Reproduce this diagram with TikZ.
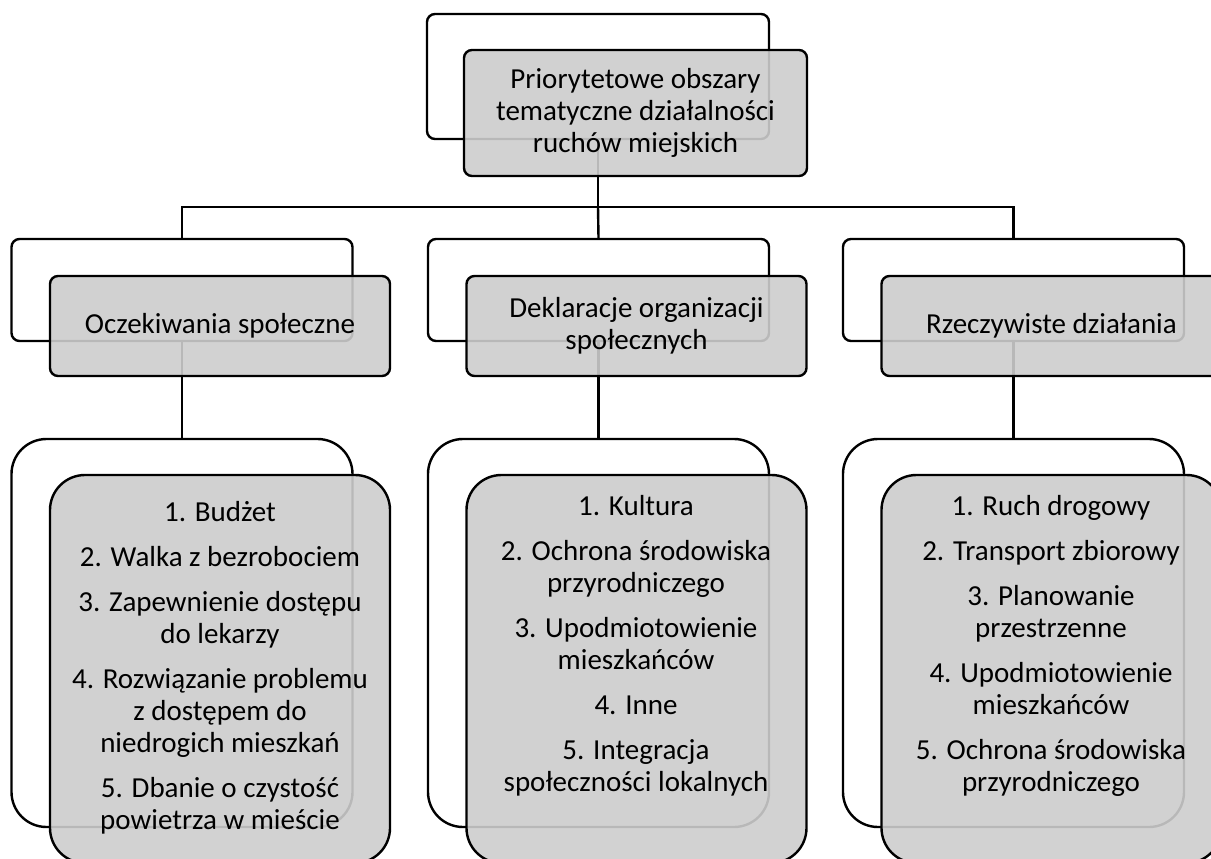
\documentclass[tikz,border=0pt]{standalone}
\usepackage{fontspec}
\setmainfont{Carlito}
\definecolor{boxgray}{RGB}{205,205,205}
\tikzset{
  back/.style={draw=black, line width=2.4pt, rounded corners=#1, fill=white, inner sep=0pt},
  back/.default=8pt,
  front/.style={draw=black, line width=2.4pt, rounded corners=#1, fill=boxgray,
    fill opacity=0.9, text opacity=1, inner sep=0pt, align=center,
    font=\fontsize{29}{32}\selectfont},
  front/.default=8pt,
  listtext/.style={align=center, inner sep=0pt, font=\fontsize{29}{32}\selectfont},
  conn/.style={draw=black, line width=2.4pt},
}
\begin{document}
\begin{tikzpicture}[x=1pt, y=-1pt]
  \useasboundingbox (0,0) rectangle (1211,859);
  \clip (0,0) rectangle (1211,859);
  % white boxes behind
  \node[back, minimum width=342pt, minimum height=125pt] (topw) at (598,76.5) {};
  \foreach \n/\x in {ocz/182, dekl/598.5, rzecz/1013.5} {
    \node[back, minimum width=341pt, minimum height=102pt] (\n w) at (\x,290) {};
    \node[back=35pt, minimum width=341pt, minimum height=388pt] (\n l) at (\x,633) {};
  }
  % connectors
  \coordinate (bar) at (598,207);
  \draw[conn] (topw.south) -- (bar);
  \draw[conn] (oczw.north) |- (bar) -| (rzeczw.north);
  \draw[conn] (deklw.north) -- (bar);
  \foreach \n in {ocz, dekl, rzecz} {
    \draw[conn] (\n w.south) -- (\n l.north);
  }
  % grey boxes in front
  \node[front, minimum width=343pt, minimum height=126pt] (top) at (635.5,113)
    {Priorytetowe obszary\\tematyczne działalności\\ruchów miejskich};
  \node[front, minimum width=340pt, minimum height=100pt] (ocz) at (220,326)
    {Oczekiwania społeczne};
  \node[front, minimum width=340pt, minimum height=100pt] (dekl) at (636.5,326)
    {Deklaracje organizacji\\społecznych};
  \node[front, minimum width=340pt, minimum height=100pt] (rzecz) at (1051.5,326)
    {Rzeczywiste działania};
  \foreach \n/\x in {ocz/220, dekl/636.5, rzecz/1051.5} {
    \node[front=35pt, minimum width=340pt, minimum height=388pt] (\n g) at (\x,669) {};
  }
  % lists
  \node[listtext] (ocztxt) at (220,667.5)
    {1. Budżet\\[13pt]2. Walka z bezrobociem\\[13pt]3. Zapewnienie dostępu\\do lekarzy\\[13pt]4. Rozwiązanie problemu\\z dostępem do\\niedrogich mieszkań\\[13pt]5. Dbanie o czystość\\powietrza w mieście};
  \node[listtext] (dekltxt) at (636,645.5)
    {1. Kultura\\[13pt]2. Ochrona środowiska\\przyrodniczego\\[13pt]3. Upodmiotowienie\\mieszkańców\\[13pt]4. Inne\\[13pt]5. Integracja\\społeczności lokalnych};
  \node[listtext] (rzecztxt) at (1051,645.5)
    {1. Ruch drogowy\\[13pt]2. Transport zbiorowy\\[13pt]3. Planowanie\\przestrzenne\\[13pt]4. Upodmiotowienie\\mieszkańców\\[13pt]5. Ochrona środowiska\\przyrodniczego};
\end{tikzpicture}
\end{document}
